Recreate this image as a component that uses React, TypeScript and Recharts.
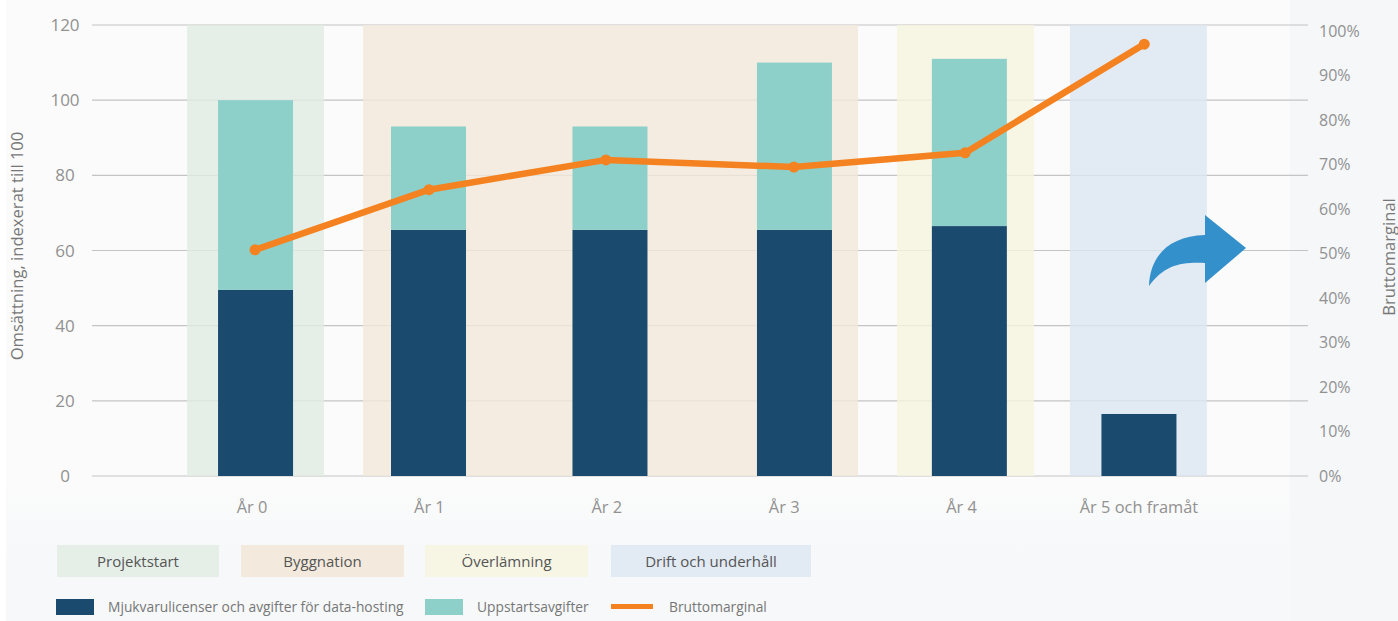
import React from "react";
import {
  ComposedChart, Bar, Line, XAxis, YAxis, CartesianGrid, ReferenceArea,
} from "recharts";

const categories = ["År 0", "År 1", "År 2", "År 3", "År 4", "År 5 och framåt"];
const categoryTicks = [0, 1, 2, 3, 4, 5];
const barPositions = [0.02, 0.995, 2.018, 3.058, 4.044, 5.0];
const licenses = [49.5, 65.5, 65.5, 65.5, 66.5, 16.5];
const startup = [50.5, 27.5, 27.5, 44.5, 44.5, 0];
const linePositions = [0.017, 0.998, 1.995, 3.055, 4.02, 5.03];
const margin = [50.8, 64.3, 71, 69.4, 72.6, 97];
const leftTicks = [0, 20, 40, 60, 80, 100, 120];
const rightTicks = [0, 10, 20, 30, 40, 50, 60, 70, 80, 90, 100];

const phaseNames = ["Projektstart", "Byggnation", "Överlämning", "Drift och underhåll"];
const phaseStart = [-0.366, 0.626, 3.636, 4.611];
const phaseEnd = [0.406, 3.416, 4.408, 5.383];
const phaseColors = ["#e5efe8", "#f3eadd", "#f7f6e5", "#e2eaf3"];
const bandColors = ["#e0ece3", "#f2e8d9", "#f6f5df", "#dce6f1"];

const NAVY = "#1a4a6e";
const TEAL = "#8dd0c9";
const ORANGE = "#f58220";
const GREY = "#919191";
const FONT = "'Open Sans', sans-serif";
const BAR_W = 75;

const barData = categories.map((c, i) => ({
  name: c, pos: barPositions[i], licenses: licenses[i], startup: startup[i],
}));
const lineData = categories.map((c, i) => ({ name: c, pos: linePositions[i], margin: margin[i] }));

const LeftTick = (p: any) => (
  <text x={65} y={p.y} dy={6} textAnchor="middle" fontSize={17} fill={GREY} fontFamily={FONT}>{p.payload.value}</text>
);
const RightTick = (p: any) => (
  <text x={1319} y={p.y} dy={6} textAnchor="start" fontSize={16} fill={GREY} fontFamily={FONT}>{p.payload.value}%</text>
);
const RotLabel = (x: number, y: number, text: string) => () => (
  <text transform={`rotate(-90 ${x} ${y})`} x={x} y={y} textAnchor="middle" dominantBaseline="central" fontSize={16.6} fill="#777" fontFamily={FONT}>{text}</text>
);
const WideBar = (p: any) => (
  p.height > 0 ? <rect x={p.x + p.width / 2 - BAR_W / 2} y={p.y} width={BAR_W} height={p.height} fill={p.fill} /> : <g />
);

const phaseBoxes = [
  { left: 57, width: 162 }, { left: 241, width: 163 }, { left: 425, width: 163 }, { left: 611, width: 200 },
];

export default function App() {
  return (
    <div style={{ position: "absolute", left: 0, top: 0, width: 1398, height: 621, overflow: "hidden", background: "#fff", fontFamily: FONT }}>
      <div style={{ position: "absolute", left: 6, top: 0, width: 1392, height: 621, background: "#f5f7f9" }} />
      <div style={{ position: "absolute", left: 6, top: 0, width: 1284, height: 621, background: "linear-gradient(#fbfbfb 0, #fbfbfb 480px, #f6f8f9 560px)" }} />
      <div style={{ position: "absolute", left: 0, top: 0 }}>
        <ComposedChart width={1398} height={621} data={barData} margin={{ top: 25, right: 0, bottom: 105, left: 0 }}>
          {phaseStart.map((s, i) => (
            <ReferenceArea key={i} xAxisId="x" yAxisId="l" x1={s} x2={phaseEnd[i]} y1={0} y2={120} fill={bandColors[i]} fillOpacity={0.8} stroke="none" />
          ))}
          <CartesianGrid xAxisId="x" yAxisId="l" vertical={false} stroke="#c4c4c4" strokeWidth={1.2} />
          <XAxis xAxisId="x" dataKey="pos" type="number" domain={[-0.902, 5.953]} ticks={categoryTicks} allowDataOverflow
            interval={0} height={40} axisLine={false} tickLine={false} tickMargin={19}
            tickFormatter={(v: number) => categories[v]} tick={{ fontSize: 16.4, fill: GREY, fontFamily: FONT }} />
          <YAxis yAxisId="l" width={92} domain={[0, 120]} ticks={leftTicks} axisLine={false} tickLine={false} tick={LeftTick}
            label={{ content: RotLabel(16, 246, "Omsättning, indexerat till 100") }} />
          <YAxis yAxisId="r" orientation="right" width={90} domain={[0, 101.3]} ticks={rightTicks} axisLine={false} tickLine={false} tick={RightTick}
            label={{ content: RotLabel(1388, 257, "Bruttomarginal") }} />
          <Bar xAxisId="x" yAxisId="l" dataKey="licenses" name="Mjukvarulicenser och avgifter för data-hosting" stackId="a" fill={NAVY} shape={WideBar} isAnimationActive={false} />
          <Bar xAxisId="x" yAxisId="l" dataKey="startup" name="Uppstartsavgifter" stackId="a" fill={TEAL} shape={WideBar} isAnimationActive={false} />
          <Line xAxisId="x" yAxisId="r" data={lineData} dataKey="margin" name="Bruttomarginal" type="linear" stroke={ORANGE} strokeWidth={6.5}
            dot={{ r: 5.5, fill: ORANGE, stroke: ORANGE, strokeWidth: 0 }} isAnimationActive={false} />
        </ComposedChart>
      </div>
      <svg width={1398} height={621} style={{ position: "absolute", left: 0, top: 0, pointerEvents: "none" }}>
        <path d="M1149 286 C1150 255 1170 236 1205 235 L1205 215 L1246 248 L1205 283 L1205 263 C1180 262 1165 265 1149 286 Z" fill="#3490cb" />
      </svg>
      {phaseNames.map((n, i) => (
        <div key={n} style={{ position: "absolute", left: phaseBoxes[i].left, top: 545, width: phaseBoxes[i].width, height: 32, lineHeight: "32px", textAlign: "center", background: phaseColors[i], color: "#555", fontSize: 15 }}>{n}</div>
      ))}
      <div style={{ position: "absolute", left: 56, top: 599, width: 38, height: 16, background: NAVY }} />
      <div style={{ position: "absolute", left: 108, top: 597, lineHeight: "20px", fontSize: 13.8, color: "#777", whiteSpace: "nowrap" }}>Mjukvarulicenser och avgifter för data-hosting</div>
      <div style={{ position: "absolute", left: 425, top: 599, width: 38, height: 16, background: TEAL }} />
      <div style={{ position: "absolute", left: 477, top: 597, lineHeight: "20px", fontSize: 13.8, color: "#777", whiteSpace: "nowrap" }}>Uppstartsavgifter</div>
      <div style={{ position: "absolute", left: 611, top: 604, width: 42, height: 5, background: ORANGE }} />
      <div style={{ position: "absolute", left: 669, top: 597, lineHeight: "20px", fontSize: 13.8, color: "#777", whiteSpace: "nowrap" }}>Bruttomarginal</div>
    </div>
  );
}
